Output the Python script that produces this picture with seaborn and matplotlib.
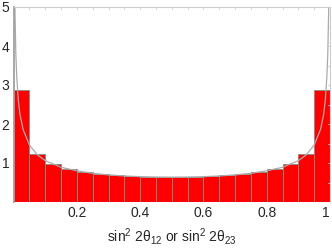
import numpy as np
import matplotlib
matplotlib.use("Agg")
import matplotlib.pyplot as plt
import seaborn as sns

# bin edges and heights (20 bins of width 0.05)
edges = [i * 0.05 for i in range(21)]
heights = [2.87, 1.23, 0.97, 0.84, 0.76, 0.71, 0.68, 0.66, 0.64, 0.64,
           0.64, 0.64, 0.66, 0.68, 0.71, 0.76, 0.84, 0.97, 1.23, 2.87]
centers = [e + 0.025 for e in edges[:-1]]

# points
curve_x = [0.002, 0.004, 0.007, 0.01, 0.015, 0.02, 0.03, 0.05, 0.075, 0.1, 0.15,
           0.2, 0.25, 0.3, 0.35, 0.4, 0.45, 0.5, 0.55, 0.6, 0.65, 0.7, 0.75,
           0.8, 0.85, 0.9, 0.925, 0.95, 0.97, 0.98, 0.985, 0.99, 0.993, 0.996, 0.998]
curve_y = [7.1, 5.0, 3.8, 3.2, 2.6, 2.25, 1.86, 1.46, 1.21, 1.06, 0.89,
           0.80, 0.735, 0.695, 0.667, 0.65, 0.64, 0.637, 0.64, 0.65, 0.667, 0.695, 0.735,
           0.80, 0.89, 1.06, 1.21, 1.46, 1.86, 2.25, 2.6, 3.2, 3.8, 5.0, 7.1]

sns.set_style("white")
plt.rcParams['font.family'] = ['Liberation Sans', 'DejaVu Sans']
plt.rcParams['mathtext.fontset'] = 'custom'
plt.rcParams['mathtext.rm'] = 'Liberation Sans'
plt.rcParams['mathtext.it'] = 'Liberation Sans'
plt.rcParams['mathtext.sf'] = 'Liberation Sans'

fig = plt.figure(figsize=(3.32, 2.5), dpi=100)
ax = fig.add_axes([0.041, 0.192, 0.953, 0.78])

sns.histplot(x=centers, weights=heights, bins=edges, stat="count",
             color="#ff0000", edgecolor="#888888", linewidth=0.6, alpha=1, ax=ax)
sns.lineplot(x=curve_x, y=curve_y, color="#aaaaaa", linewidth=0.9, ax=ax)

ax.set_xlim(0, 1)
ax.set_ylim(0, 5)
ax.set_xticks([0.2, 0.4, 0.6, 0.8, 1.0])
ax.set_xticklabels(["0.2", "0.4", "0.6", "0.8", "1"])
ax.get_xticklabels()[-1].set_horizontalalignment("right")
ax.set_yticks([1, 2, 3, 4, 5])
ax.set_yticklabels(["1", "2", "3", "4", "5"])
ax.set_ylabel("")
ax.set_xlabel(r"sin$^2$ 2$\mathrm{\theta}_{12}$ or sin$^2$ 2$\mathrm{\theta}_{23}$",
              fontsize=10, labelpad=4)
ax.tick_params(axis="both", labelsize=10, length=0)
ax.tick_params(axis="x", pad=3)
ax.tick_params(axis="y", pad=3)

for s in ["top", "right"]:
    ax.spines[s].set_color("#cccccc")
    ax.spines[s].set_linewidth(0.8)
ax.spines["left"].set_color("#999999")
ax.spines["left"].set_linewidth(1.2)
ax.spines["bottom"].set_visible(False)

# small inward ticks on top and right frame
for x in edges:
    ax.plot([x, x], [5, 4.95], color="#cccccc", lw=0.6, clip_on=False)
for y in np.arange(0.5, 5, 0.5):
    ax.plot([1, 0.993], [y, y], color="#cccccc", lw=0.6, clip_on=False)

fig.savefig("out.png", dpi=100)
